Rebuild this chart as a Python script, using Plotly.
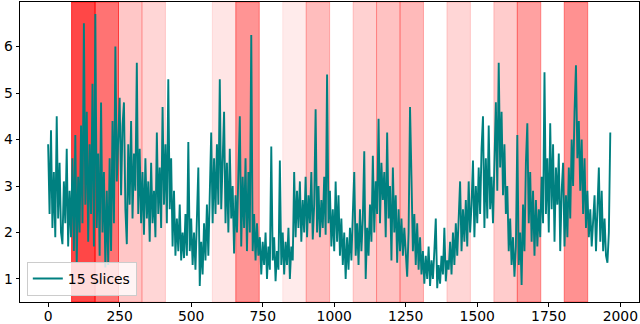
import numpy as np
import plotly.graph_objects as go

# sampled every 5 steps along the series (index 0 .. 1965)
step = 5
values = [
    3.9, 2.4, 4.2, 2.1, 3.3, 1.9, 4.5, 2.3, 3.5, 2.0, 1.75, 3.1, 2.2, 3.8, 1.7, 2.9, 1.9, 3.6, 1.6, 4.1,
    1.35, 3.2, 2.0, 4.3, 2.2, 6.5, 2.6, 4.6, 1.8, 3.9, 2.4, 5.2, 1.7, 6.7, 2.1, 3.7, 1.5, 4.8, 2.0, 3.3,
    1.25, 2.9, 1.3, 3.6, 1.6, 4.4, 2.2, 6.0, 3.1, 4.1, 4.9, 2.8, 4.3, 4.8, 2.5, 1.75, 3.9, 2.6, 4.4, 2.3,
    3.7, 2.9, 5.65, 2.4, 3.8, 2.2, 3.3, 1.95, 3.6, 2.3, 3.1, 1.8, 3.5, 2.2, 2.9, 1.9, 4.15, 2.4, 3.4, 2.1,
    4.7, 2.6, 3.9, 2.2, 5.3, 2.5, 3.6, 1.7, 2.9, 1.5, 2.3, 1.6, 2.6, 1.4, 2.0, 1.45, 2.4, 1.5, 3.95, 1.6,
    2.3, 1.3, 2.0, 1.2, 2.5, 3.4, 0.85, 1.8, 1.1, 2.2, 1.4, 2.6, 1.5, 3.2, 4.15, 2.2, 3.6, 2.4, 3.9, 2.6,
    5.3, 2.5, 3.7, 4.6, 2.2, 3.5, 2.0, 3.8, 2.3, 3.0, 1.55, 2.8, 2.0, 3.4, 4.5, 1.7, 3.2, 2.1, 3.6, 1.6,
    3.3, 2.0, 6.25, 1.6, 2.4, 1.4, 2.2, 1.5, 1.9, 1.1, 1.8, 1.3, 2.0, 1.0, 1.7, 1.2, 3.85, 1.4, 1.9, 0.95,
    1.6, 1.2, 3.55, 1.3, 2.0, 1.1, 1.8, 1.3, 2.1, 1.0, 1.7, 1.4, 3.3, 1.9, 2.9, 2.1, 3.1, 1.8, 2.7, 2.0,
    3.2, 1.9, 2.8, 2.2, 3.3, 1.85, 2.6, 4.65, 2.0, 3.0, 1.9, 2.7, 2.1, 3.2, 1.95, 5.4, 2.2, 2.9, 1.7, 2.5,
    1.6, 3.1, 1.8, 2.8, 1.5, 2.3, 1.3, 2.0, 1.0, 1.9, 1.2, 2.1, 1.4, 2.4, 3.3, 1.5, 2.2, 1.3, 2.5, 1.6,
    2.3, 3.75, 1.0, 2.1, 1.5, 2.6, 1.8, 3.65, 2.0, 3.1, 2.4, 4.45, 2.2, 3.5, 2.7, 3.3, 1.9, 4.15, 2.3, 3.0,
    1.4, 3.4, 2.0, 2.8, 1.35, 2.5, 1.6, 2.3, 1.5, 2.1, 1.4, 1.05, 2.0, 4.7, 3.2, 1.6, 2.4, 1.3, 2.2, 1.2,
    1.9, 1.1, 1.6, 0.9, 1.5, 1.0, 1.7, 0.85, 1.4, 1.0, 1.6, 2.3, 0.8, 1.3, 0.9, 1.5, 1.1, 2.1, 0.95, 1.4,
    1.2, 1.8, 1.1, 2.0, 1.3, 2.2, 1.5, 2.4, 3.1, 1.6, 2.5, 1.8, 2.7, 1.7, 3.1, 2.0, 2.6, 3.55, 1.9, 3.0,
    2.2, 3.4, 2.4, 3.8, 4.5, 2.1, 3.6, 2.3, 4.3, 2.5, 3.2, 2.2, 3.9, 4.8, 2.9, 5.65, 3.4, 4.6, 2.8, 3.9,
    2.4, 3.0, 1.6, 2.3, 1.3, 1.9, 1.05, 1.7, 4.1, 1.3, 2.0, 0.87, 2.6, 1.6, 3.5, 4.35, 2.2, 3.3, 1.8, 2.9,
    1.5, 2.7, 1.7, 2.5, 1.9, 3.2, 2.2, 5.45, 2.4, 3.6, 2.0, 4.35, 2.5, 3.9, 1.8, 3.4, 2.6, 3.7, 1.6, 2.9,
    3.5, 1.7, 2.8, 1.9, 3.4, 2.3, 4.0, 3.0, 4.6, 5.6, 3.6, 4.4, 2.9, 4.0, 2.4, 3.6, 2.1, 2.9, 1.9, 2.5,
    1.7, 2.3, 2.8, 1.6, 2.4, 3.4, 1.8, 2.9, 1.6, 2.3, 1.5, 1.35, 2.0, 4.15,
]
n_points = 1968
slice_size = 82
slice_ids = [1, 2, 3, 4, 7, 8, 10, 11, 13, 14, 15, 17, 19, 20, 22]
slice_alpha = [0.72, 0.55, 0.22, 0.16, 0.1, 0.42, 0.08, 0.26, 0.18, 0.24, 0.27, 0.16, 0.2, 0.37, 0.43]

x = np.arange(len(values)) * step

fig = go.Figure()
fig.add_trace(go.Scatter(x=x, y=values, mode='lines', name='15 Slices',
                         line=dict(color='#008080', width=1.9)))

for k, a in zip(slice_ids, slice_alpha):
    fig.add_shape(type='rect', xref='x', yref='paper',
                  x0=k * slice_size, x1=(k + 1) * slice_size, y0=0, y1=1,
                  fillcolor=f'rgba(255,0,0,{a})',
                  line=dict(color=f'rgba(255,0,0,{a})', width=1),
                  layer='below')

pad = 0.05 * (n_points - 1)
axis_style = dict(showline=True, mirror=True, linecolor='black', linewidth=1,
                  ticks='outside', ticklen=3.5, tickwidth=0.8, tickcolor='black',
                  showgrid=False, zeroline=False, automargin=False,
                  tickfont=dict(family='DejaVu Sans', size=13.9, color='black'))
fig.update_xaxes(range=[-pad, n_points - 1 + pad], tickvals=list(range(0, 2001, 250)),
                 ticklabelstandoff=-2, **axis_style)
fig.update_yaxes(range=[0.505, 6.96], tickvals=[1, 2, 3, 4, 5, 6], **axis_style)

fig.update_layout(
    width=640, height=324,
    margin=dict(l=20, r=1, t=2, b=22),
    plot_bgcolor='white', paper_bgcolor='white',
    showlegend=True,
    legend=dict(x=0.011, y=0.02, xanchor='left', yanchor='bottom',
                bgcolor='rgba(255,255,255,0.8)', bordercolor='#cccccc', borderwidth=1,
                font=dict(family='DejaVu Sans', size=13.9, color='black')),
)

# page body has a default 8px margin; drop it so the figure sits at the corner
fig.write_html("out.html", config={'displayModeBar': False},
               post_script="document.body.style.margin='0';")
